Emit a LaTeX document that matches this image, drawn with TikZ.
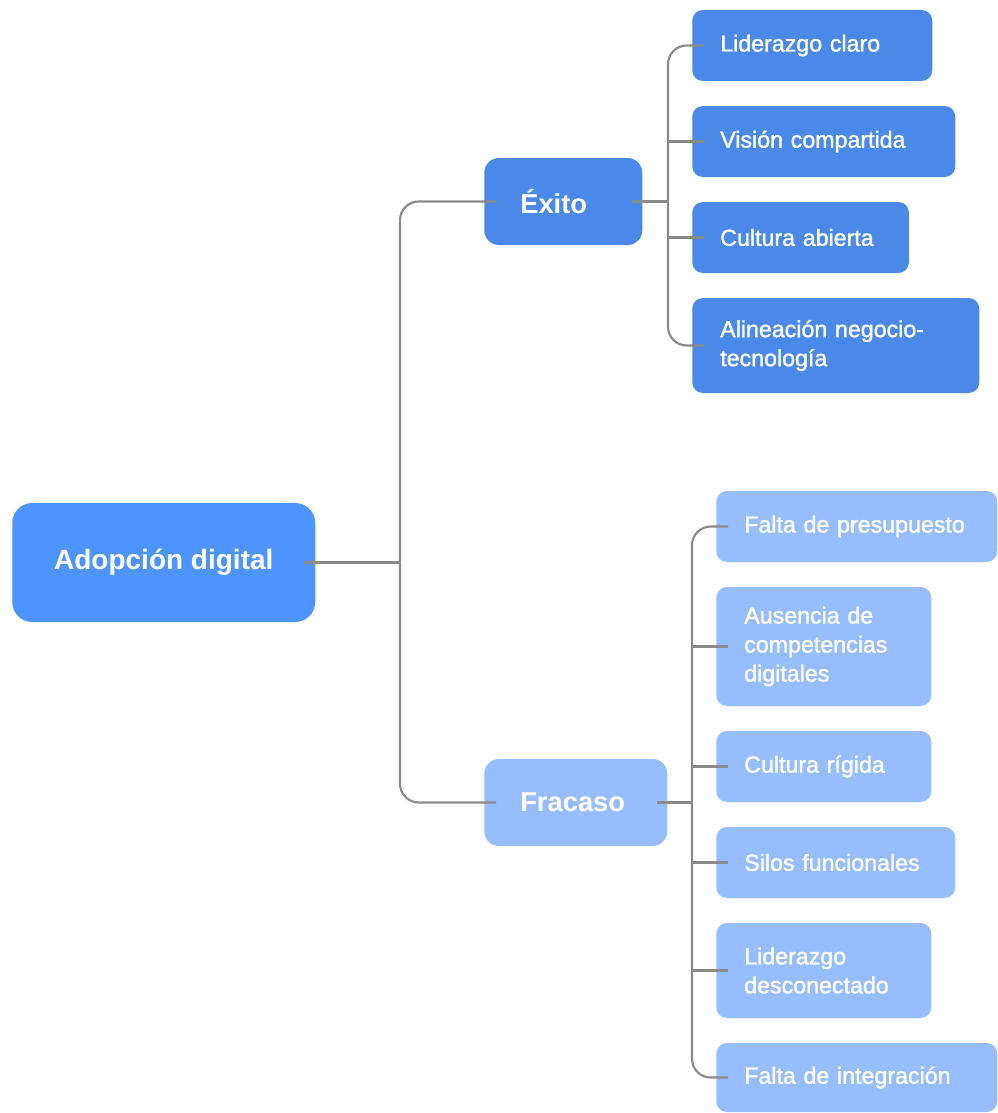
\documentclass[tikz,border=0pt]{standalone}
\usepackage{fontspec}
\setmainfont{Liberation Sans}
\newfontfamily\leaffont[FakeBold=1.4]{Liberation Sans}
\usetikzlibrary{calc}
\definecolor{rootblue}{RGB}{77,148,255}
\definecolor{okblue}{RGB}{74,137,232}
\definecolor{failblue}{RGB}{150,189,255}
\definecolor{linkgray}{RGB}{138,138,138}

\begin{document}
\begin{tikzpicture}[x=0.75pt, y=-0.75pt,
  rootbox/.style={fill=rootblue, rounded corners=15pt, text=white, anchor=west,
                  minimum width=227.25pt, minimum height=89.25pt,
                  font=\fontsize{21}{25}\selectfont\bfseries},
  branch/.style={rounded corners=11pt, text=white, anchor=west, align=left,
                 inner xsep=27pt, minimum height=65.25pt,
                 font=\fontsize{20.5}{24}\selectfont\bfseries},
  leaf/.style={rounded corners=8pt, text=white, anchor=west, align=left,
               inner xsep=21pt, inner ysep=0pt,
               font=\leaffont\fontsize{17.4}{21.75}\selectfont},
  ok/.style={fill=okblue},
  fail/.style={fill=failblue},
  link/.style={draw=linkgray, line width=1.6pt}
]
\useasboundingbox (0,0) rectangle (997,1113);

\node[rootbox] (root) at (12,562.5) {Adopción digital};
\node[branch, ok,   text width=64.5pt]  (exito)   at (484,201.5) {Éxito};
\node[branch, fail, text width=83.25pt] (fracaso) at (484,802.5) {Fracaso};

% éxito
\node[leaf, ok, text width=138pt,    minimum height=53.25pt] (lid) at (692,45.5)  {Liderazgo claro};
\node[leaf, ok, text width=155.25pt, minimum height=53.25pt] (vis) at (692,141.5) {Visión compartida};
\node[leaf, ok, text width=120.5pt,  minimum height=53.25pt] (cul) at (692,237.5) {Cultura abierta};
\node[leaf, ok, text width=173.25pt, minimum height=71.25pt] (ali) at (692,345.5) {Alineación negocio-\\tecnología};

% fracaso
\node[leaf, fail, text width=168.75pt, minimum height=53.25pt] (pre) at (716,526.5)  {Falta de presupuesto};
\node[leaf, fail, text width=119.25pt, minimum height=89.25pt] (aus) at (716,646.5)  {Ausencia de\\competencias\\digitales};
\node[leaf, fail, text width=119.25pt, minimum height=53.25pt] (rig) at (716,766.5)  {Cultura rígida};
\node[leaf, fail, text width=137.25pt, minimum height=53.25pt] (sil) at (716,862.5)  {Silos funcionales};
\node[leaf, fail, text width=119.25pt, minimum height=71.25pt] (des) at (716,970.5)  {Liderazgo\\desconectado};
\node[leaf, fail, text width=168.75pt, minimum height=51.75pt] (int) at (716,1077.5) {Falta de integración};

\coordinate (rj) at (400,562.5);
\coordinate (ej) at (668,201.5);
\coordinate (fj) at (692,802.5);

\draw[link] ([xshift=-9pt]root.east) -- (rj);
\draw[link, rounded corners=14pt] (rj) |- ([xshift=9pt]exito.west);
\draw[link, rounded corners=14pt] (rj) |- ([xshift=9pt]fracaso.west);

\draw[link] ([xshift=-8pt]exito.east) -- (ej);
\draw[link, rounded corners=14pt] (ej) |- ([xshift=9pt]lid.west);
\draw[link, rounded corners=14pt] (ej) |- ([xshift=9pt]ali.west);
\foreach \n in {vis,cul}
  \draw[link] (ej |- \n.west) -- ([xshift=9pt]\n.west);

\draw[link] ([xshift=-8pt]fracaso.east) -- (fj);
\draw[link, rounded corners=14pt] (fj) |- ([xshift=9pt]pre.west);
\draw[link, rounded corners=14pt] (fj) |- ([xshift=9pt]int.west);
\foreach \n in {aus,rig,sil,des}
  \draw[link] (fj |- \n.west) -- ([xshift=9pt]\n.west);
\end{tikzpicture}
\end{document}
